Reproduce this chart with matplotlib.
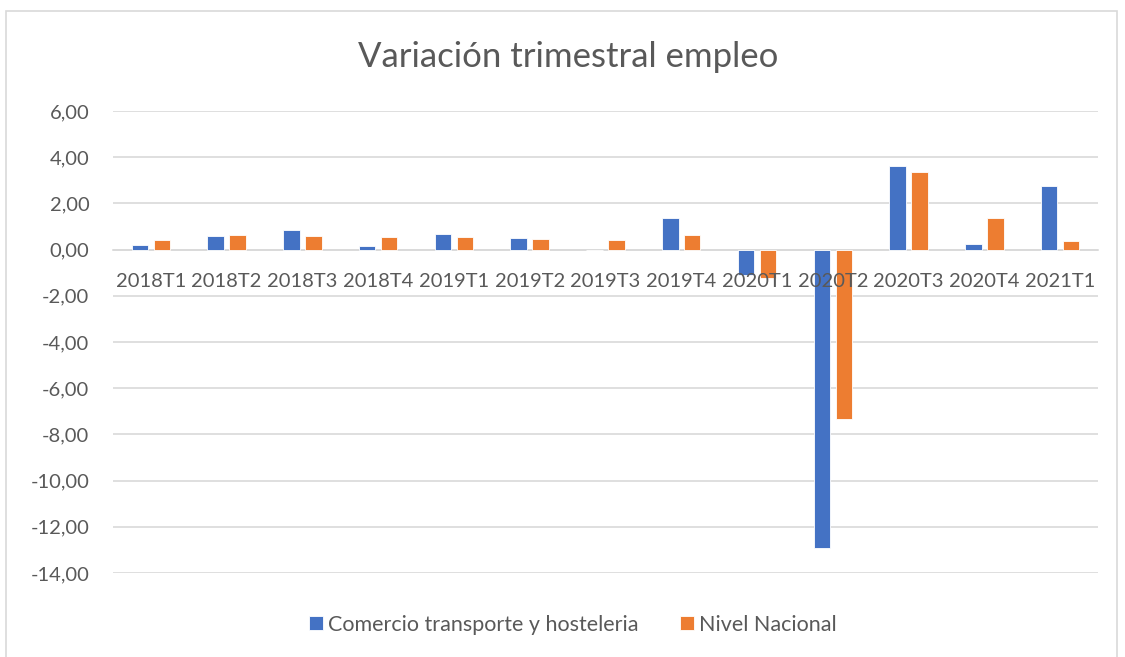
import matplotlib
matplotlib.use('Agg')
import matplotlib.pyplot as plt
import numpy as np
from matplotlib.patches import Rectangle

periodos = ['2018T1','2018T2','2018T3','2018T4','2019T1','2019T2','2019T3',
            '2019T4','2020T1','2020T2','2020T3','2020T4','2021T1']
comercio = [0.19,0.58,0.84,0.14,0.68,0.49,0.0,1.36,-1.08,-12.90,3.64,0.26,2.74]
nacional = [0.42,0.62,0.59,0.55,0.54,0.45,0.42,0.62,-1.22,-7.32,3.35,1.38,0.38]
yticks = [6,4,2,0,-2,-4,-6,-8,-10,-12,-14]

azul = '#4472C4'
naranja = '#ED7D31'
gris = '#595959'
rejilla = '#D9D9D9'

plt.rcParams['font.family'] = ['Lato', 'DejaVu Sans']

fig = plt.figure(figsize=(11.25, 6.57), dpi=100)
ax = fig.add_axes([0.1004, 0.128, 0.8756, 0.703])

x = np.arange(len(periodos))
w = 0.218
ax.bar(x - 0.145, comercio, w, color=azul, edgecolor='white', linewidth=0.6,
       label='Comercio transporte y hosteleria', zorder=3)
ax.bar(x + 0.145, nacional, w, color=naranja, edgecolor='white', linewidth=0.6,
       label='Nivel Nacional', zorder=3)

ax.set_xlim(-0.5, len(periodos) - 0.5)
ax.set_ylim(-14, 6)
ax.set_yticks(yticks)
ax.set_yticklabels([f'{v:.2f}'.replace('.', ',') for v in yticks])
ax.yaxis.grid(True, color=rejilla, linewidth=1.2)
ax.set_axisbelow(True)
# etiquetas de categoria por encima de las barras, como en Excel
ax.xaxis.set_zorder(4)

ax.set_xticks(x)
ax.set_xticklabels(periodos)
ax.spines['bottom'].set_position(('data', 0))
ax.spines['bottom'].set_color(rejilla)
ax.spines['bottom'].set_linewidth(1.2)
ax.spines['bottom'].set_zorder(1)
for s in ['top', 'right', 'left']:
    ax.spines[s].set_visible(False)
ax.tick_params(axis='x', length=0, pad=17, labelsize=14.5, labelcolor=gris)
ax.tick_params(axis='y', length=0, pad=17, labelsize=14.5, labelcolor=gris)

fig.text(0.505, 0.914, 'Variación trimestral empleo', ha='center', va='center',
         fontsize=25, color=gris)

leg = fig.legend(loc='center', bbox_to_anchor=(0.509, 0.049), ncol=2, frameon=False,
                 fontsize=15.5, handlelength=0.65, handleheight=0.65, handletextpad=0.25,
                 columnspacing=1.9)
for t in leg.get_texts():
    t.set_color(gris)

fig.patches.append(Rectangle((0.005, -0.01), 0.988, 0.993, transform=fig.transFigure,
                             fill=False, edgecolor=rejilla, linewidth=1.2))

fig.savefig('out.png', dpi=100)
